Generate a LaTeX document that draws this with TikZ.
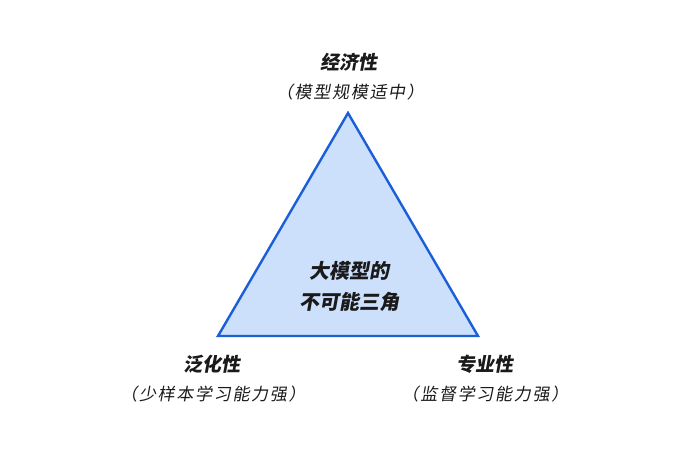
\documentclass[tikz,border=0pt]{standalone}
\usepackage{fontspec}
\newfontfamily\cjk[FakeSlant=0.18]{Noto Sans CJK SC}
\newfontfamily\cjksub[FakeSlant=0.18,LetterSpace=10]{Noto Sans CJK SC}
\definecolor{triline}{HTML}{1A5FD8}
\definecolor{trifill}{HTML}{CCDFFB}
\definecolor{txt}{HTML}{1A1A1A}
\begin{document}
\begin{tikzpicture}[x=1pt,y=-1pt,
  title/.style={font=\cjk\bfseries\fontsize{19}{22}\selectfont, text=txt, inner sep=0pt},
  sub/.style={font=\cjksub\fontsize{17}{20}\selectfont, text=txt, inner sep=0pt},
  center/.style={font=\cjk\bfseries\fontsize{20}{24}\selectfont, text=txt, inner sep=0pt}]
\useasboundingbox (0,0) rectangle (698,455);
\coordinate (top) at (348,113);
\coordinate (bl) at (218,336);
\coordinate (br) at (478,336);
\draw[triline, line width=2.4pt, fill=trifill, line join=miter] (top) -- (bl) -- (br) -- cycle;
\node[title] (t1) at (349,62) {经济性};
\node[sub] (s1) at (350,92) {（模型规模适中）};
\node[center] (c1) at (349,271) {大模型的};
\node[center] (c2) at (349,302) {不可能三角};
\node[title] (t2) at (212,364) {泛化性};
\node[sub] (s2) at (213,394) {（少样本学习能力强）};
\node[title] (t3) at (485,364) {专业性};
\node[sub] (s3) at (485,394) {（监督学习能力强）};
\end{tikzpicture}
\end{document}
